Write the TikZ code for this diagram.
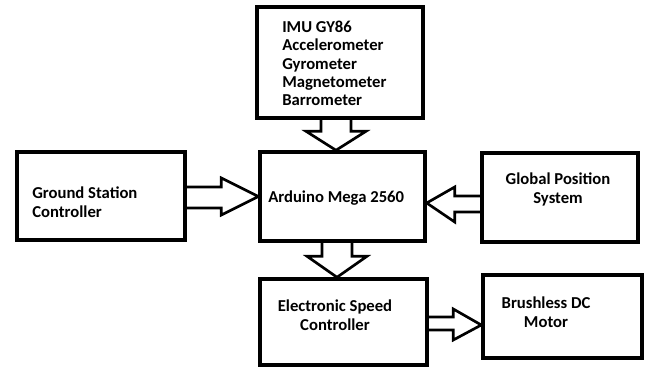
\documentclass[tikz,border=0pt]{standalone}
\usepackage{fontspec}
\setmainfont{Carlito}
\usetikzlibrary{calc}

\tikzset{
  box/.style={draw, line width=2.6pt, inner sep=0pt},
  fat/.style={draw, line width=2pt, line join=miter},
  txt/.style={inner sep=0pt, align=left, font=\bfseries\fontsize{12.5}{13.8}\selectfont},
  ctxt/.style={inner sep=0pt, align=center, font=\bfseries\fontsize{12.5}{14.2}\selectfont},
}

\begin{document}
\begin{tikzpicture}[x=0.75pt, y=-0.75pt]
\useasboundingbox (0,0) rectangle (649,367);

% Boxes
\node[box, minimum width=124.5pt, minimum height=83.25pt] (imu) at (340,62.5) {};
\node[box, minimum width=123.75pt, minimum height=66.75pt] (ard) at (342.5,196.5) {};
\node[box, minimum width=126pt, minimum height=66pt] (gsc) at (101,196) {};
\node[box, minimum width=117pt, minimum height=66.75pt] (gps) at (560,197.5) {};
\node[box, minimum width=125.25pt, minimum height=64.5pt] (esc) at (343.5,322) {};
\node[box, minimum width=119.25pt, minimum height=62.25pt] (mot) at (562.5,316.5) {};

% Labels (base = last line)
\node[txt, anchor=base west] (imutxt) at (282,106) {IMU GY86\\Accelerometer\\Gyrometer\\Magnetometer\\Barrometer};
\node[txt, anchor=base west] (ardtxt) at (268,202) {Arduino Mega 2560};
\node[ctxt, anchor=base west, align=left] (gsctxt) at (32,217) {Ground Station\\Controller};
\node[ctxt, anchor=base] (gpstxt) at (558,203) {Global Position\\System};
\node[ctxt, anchor=base] (esctxt) at (335,330) {Electronic Speed\\Controller};
\node[ctxt, anchor=base] (mottxt) at (546,327) {Brushless DC\\Motor};

% IMU -> Arduino
\draw[fat] ($(imu.south)+(-19,0)$) |- ($(ard.north)+(-36.5,-19)$) -- ($(ard.north)+(-6.5,0)$)
  -- ($(ard.north)+(23.5,-19)$) -| ($(imu.south)+(11,0)$);
% Ground station -> Arduino
\draw[fat] ($(gsc.east)+(0,-9)$) -| ($(ard.west)+(-37,-18.5)$) -- (ard.west)
  -- ($(ard.west)+(-37,18.5)$) |- ($(gsc.east)+(0,12)$);
% GPS -> Arduino
\draw[fat] ($(gps.west)+(0,-1.5)$) -| ($(ard.east)+(28,-9.5)$) -- ($(ard.east)+(0,6.5)$)
  -- ($(ard.east)+(28,25.5)$) |- ($(gps.west)+(0,14.5)$);
% Arduino -> ESC
\draw[fat] ($(ard.south)+(-20.5,0)$) |- ($(esc.north)+(-36.5,-21)$) -- ($(esc.north)+(-6.5,0)$)
  -- ($(esc.north)+(23.5,-21)$) -| ($(ard.south)+(9.5,0)$);
% ESC -> motor
\draw[fat] ($(esc.east)+(0,-5)$) -| ($(mot.west)+(-28,-7.5)$) -- ($(mot.west)+(0,8.5)$)
  -- ($(mot.west)+(-28,23.5)$) |- ($(esc.east)+(0,8)$);
\end{tikzpicture}
\end{document}
